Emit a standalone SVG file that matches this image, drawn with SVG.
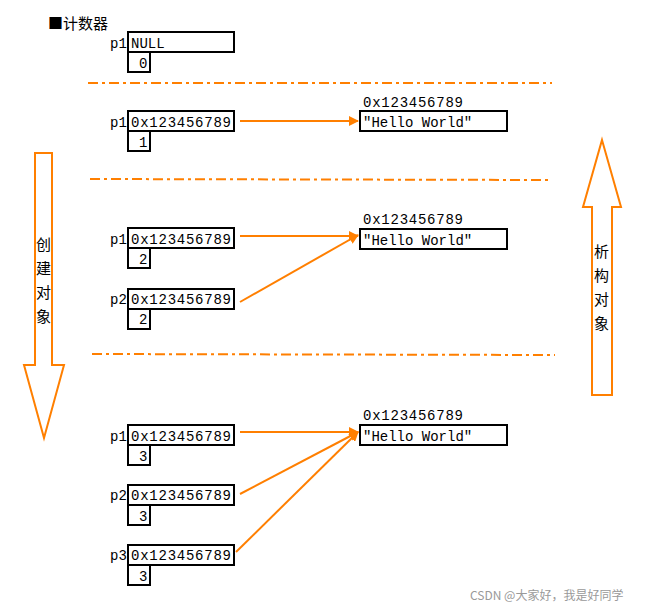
<svg xmlns="http://www.w3.org/2000/svg" width="662" height="612" viewBox="0 0 662 612">
<style>
.b{fill:#fff;stroke:#000;stroke-width:2}
.t{font-family:"Liberation Mono",monospace;font-size:14px;fill:#000}
.c{font-family:"Noto Sans CJK SC",sans-serif;font-size:15px;fill:#000}
.d{stroke:#ff7f00;stroke-width:2;stroke-dasharray:10 4 3 4;fill:none}
.a{stroke:#ff7f00;stroke-width:2;fill:none;marker-end:url(#m)}
.big{fill:#fff;stroke:#ff7f00;stroke-width:2}
</style>
<defs><marker id="m" markerWidth="10" markerHeight="10" refX="9" refY="5" orient="auto" markerUnits="userSpaceOnUse"><path d="M0,0 L10,5 L0,10 Z" fill="#ff7f00"/></marker></defs>
<rect width="662" height="612" fill="#fff"/>
<text class="c" x="48" y="29">■计数器</text>
<g id="sep"><line class="d" x1="88" y1="83" x2="552" y2="83"/><line class="d" x1="90" y1="179" x2="552" y2="180"/><line class="d" x1="92" y1="354" x2="555" y2="355"/></g>
<g id="downArrow"><path class="big" d="M35,153 H52 V365 H64 L44,438 L24,365 H35 Z"/><text class="c" x="36" y="250">创</text><text class="c" x="36" y="274">建</text><text class="c" x="36" y="298">对</text><text class="c" x="36" y="322">象</text></g>
<g id="upArrow"><path class="big" d="M602,140 L621,207 H612 V395 H592 V207 H583 Z"/><text class="c" x="594" y="257">析</text><text class="c" x="594" y="281">构</text><text class="c" x="594" y="305">对</text><text class="c" x="594" y="329">象</text></g>
<g id="n0"><text class="t" x="110" y="48">p1</text><rect class="b" x="128" y="32" width="106" height="20"/><rect class="b" x="128" y="52" width="22" height="20"/><text class="t" x="131" y="48">NULL</text><text class="t" x="139" y="68">0</text></g>
<g id="n1"><text class="t" x="110" y="127">p1</text><rect class="b" x="128" y="111" width="106" height="20"/><rect class="b" x="128" y="131" width="22" height="20"/><text class="t" x="131" y="127" textLength="100">0x123456789</text><text class="t" x="139" y="147">1</text>
<text class="t" x="363" y="107" textLength="100">0x123456789</text><rect class="b" x="360" y="111" width="147" height="20"/><text class="t" x="363" y="127">"Hello World"</text></g>
<g id="n2"><text class="t" x="110" y="244">p1</text><rect class="b" x="128" y="228" width="106" height="20"/><rect class="b" x="128" y="248" width="22" height="20"/><text class="t" x="131" y="244" textLength="100">0x123456789</text><text class="t" x="139" y="264">2</text>
<text class="t" x="110" y="304">p2</text><rect class="b" x="128" y="289" width="106" height="20"/><rect class="b" x="128" y="309" width="22" height="20"/><text class="t" x="131" y="304" textLength="100">0x123456789</text><text class="t" x="139" y="324">2</text>
<text class="t" x="363" y="224" textLength="100">0x123456789</text><rect class="b" x="360" y="229" width="147" height="20"/><text class="t" x="363" y="245">"Hello World"</text></g>
<g id="n3"><text class="t" x="110" y="441">p1</text><rect class="b" x="128" y="425" width="106" height="20"/><rect class="b" x="128" y="445" width="22" height="20"/><text class="t" x="131" y="441" textLength="100">0x123456789</text><text class="t" x="139" y="461">3</text>
<text class="t" x="110" y="500">p2</text><rect class="b" x="128" y="485" width="106" height="20"/><rect class="b" x="128" y="505" width="22" height="20"/><text class="t" x="131" y="500" textLength="100">0x123456789</text><text class="t" x="139" y="521">3</text>
<text class="t" x="110" y="560">p3</text><rect class="b" x="128" y="545" width="106" height="20"/><rect class="b" x="128" y="565" width="22" height="20"/><text class="t" x="131" y="560" textLength="100">0x123456789</text><text class="t" x="139" y="581">3</text>
<text class="t" x="363" y="420" textLength="100">0x123456789</text><rect class="b" x="360" y="425" width="147" height="20"/><text class="t" x="363" y="441">"Hello World"</text></g>
<g id="connectors">
<line class="a" x1="240" y1="121" x2="358" y2="121"/>
<line class="a" x1="240" y1="236" x2="358" y2="236"/>
<line class="a" x1="240" y1="302" x2="358" y2="235"/>
<line class="a" x1="240" y1="432" x2="358" y2="432"/>
<line class="a" x1="240" y1="494" x2="358" y2="432"/>
<line class="a" x1="236" y1="552" x2="358" y2="432"/>
</g>
<text x="470" y="600" font-family="Noto Sans CJK SC,sans-serif" font-size="12" fill="#999">CSDN @大家好，我是好同学</text>
</svg>
